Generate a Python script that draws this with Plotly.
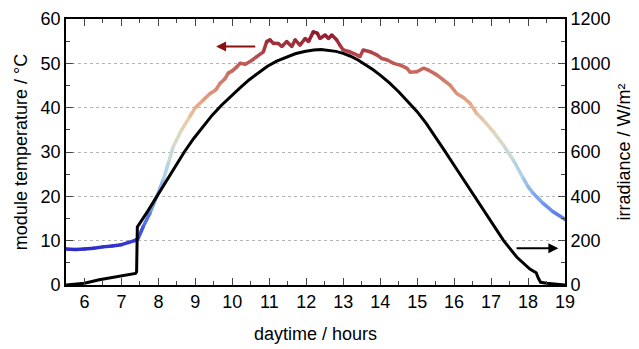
import plotly.graph_objects as go
from plotly.colors import sample_colorscale

# ---- data ----
temp_time = [5.5, 5.75, 6.0, 6.25, 6.5, 6.75, 7.0, 7.2, 7.35, 7.45, 7.59, 7.77, 7.95, 8.13,
             8.27, 8.4, 8.63, 8.85, 8.99, 9.21, 9.4, 9.55, 9.67, 9.8, 9.89, 10.0, 10.12,
             10.21, 10.35, 10.48, 10.66, 10.84, 10.93, 11.02, 11.11, 11.24, 11.34, 11.47,
             11.61, 11.7, 11.83, 11.97, 12.06, 12.19, 12.3, 12.37, 12.51, 12.6, 12.69,
             12.82, 12.91, 13.0, 13.18, 13.37, 13.45, 13.54, 13.73, 13.91, 14.04, 14.18,
             14.36, 14.54, 14.72, 14.81, 14.99, 15.17, 15.3, 15.53, 15.7, 15.89, 16.07,
             16.25, 16.43, 16.61, 16.79, 17.06, 17.33, 17.6, 17.87, 18.0, 18.14, 18.41,
             18.68, 19.0]
temperature = [8.1, 8.0, 8.1, 8.3, 8.6, 8.8, 9.1, 9.6, 10.0, 10.5, 13.2, 16.2, 19.9, 23.7,
               27.5, 31.2, 35.0, 38.0, 39.9, 41.7, 43.2, 44.0, 45.5, 46.5, 47.8, 48.3, 49.2,
               50.0, 49.8, 50.4, 51.5, 52.6, 54.9, 55.3, 54.5, 54.5, 53.8, 54.9,
               53.8, 55.3, 54.1, 55.6, 54.9, 57.1, 56.8, 55.6, 56.4, 55.6, 56.4,
               55.3, 54.1, 53.0, 52.6, 51.9, 51.5, 53.0, 52.6, 51.9, 51.1, 50.8,
               50.0, 49.6, 48.9, 48.0, 48.1, 48.9, 48.5, 47.4, 46.3, 45.1, 43.2,
               42.3, 41.0, 38.7, 37.2, 34.6, 31.6, 28.2, 24.1, 22.2, 20.7, 18.4,
               16.5, 14.8]

irr_time = [5.5, 5.8, 6.0, 6.4, 6.9, 7.3, 7.38, 7.41, 7.43, 7.7, 7.95, 8.2, 8.45, 8.7,
            8.95, 9.2, 9.45, 9.7, 9.95, 10.2, 10.45, 10.7, 10.95, 11.2, 11.45, 11.7,
            11.95, 12.2, 12.4, 12.6, 12.8, 13.0, 13.2, 13.4, 13.6, 13.8, 14.0, 14.25,
            14.5, 14.75, 15.0, 15.25, 15.5, 15.75, 16.0, 16.56, 17.0, 17.34, 17.7, 18.05,
            18.15, 18.22, 18.28, 18.34, 18.5, 18.75, 18.95, 19.0]
irradiance = [0, 3, 8, 24, 38, 48, 52, 60, 262, 330, 398, 465, 535, 600,
              660, 715, 765, 810, 850, 888, 925, 958, 987, 1010, 1028, 1043,
              1053, 1060, 1062, 1058, 1054, 1045, 1032, 1015, 995, 972, 947, 912,
              872, 828, 782, 728, 668, 604, 540, 400, 285, 200, 125, 72,
              62, 55, 30, 12, 8, 5, 1, 0]

x_ticks = list(range(6, 20))
temp_ticks = [0, 10, 20, 30, 40, 50, 60]
irr_ticks = [0, 200, 400, 600, 800, 1000, 1200]

# ---- colour map for the temperature line ----
tmin, tmax = 8.0, 57.0
cscale = [
    [0.00, "rgb(45,45,200)"],
    [0.08, "rgb(60,80,225)"],
    [0.20, "rgb(110,150,235)"],
    [0.35, "rgb(170,210,232)"],
    [0.49, "rgb(215,220,205)"],
    [0.59, "rgb(232,205,170)"],
    [0.69, "rgb(225,160,130)"],
    [0.80, "rgb(205,115,100)"],
    [0.90, "rgb(180,70,75)"],
    [1.00, "rgb(140,25,45)"],
]


def col(v):
    t = min(max((v - tmin) / (tmax - tmin), 0.0), 1.0)
    return sample_colorscale(cscale, [t])[0]


FONT = "Helvetica, Liberation Sans, Arial, sans-serif"
fig = go.Figure()

# temperature segments
for i in range(len(temp_time) - 1):
    fig.add_trace(go.Scatter(
        x=temp_time[i:i + 2], y=temperature[i:i + 2], mode="lines",
        line=dict(color=col((temperature[i] + temperature[i + 1]) / 2), width=3.5),
        showlegend=False, hoverinfo="skip"))
fig.add_trace(go.Scatter(
    x=temp_time, y=temperature, mode="markers",
    marker=dict(size=3.5, color=[col(v) for v in temperature], line=dict(width=0)),
    showlegend=False, hoverinfo="skip"))

# irradiance
fig.add_trace(go.Scatter(
    x=irr_time, y=irradiance, mode="lines", yaxis="y2",
    line=dict(color="black", width=3), showlegend=False, hoverinfo="skip"))

fig.update_layout(
    width=639, height=349,
    margin=dict(l=66, r=74, t=19, b=64),
    paper_bgcolor="white", plot_bgcolor="white",
    font=dict(family=FONT, size=18, color="black"),
    xaxis=dict(
        range=[5.5, 19], tickvals=x_ticks, ticks="inside", ticklen=7, tickwidth=1.3,
        showline=True, linecolor="black", linewidth=1.6, mirror="ticks",
        showgrid=False, zeroline=False, automargin=False,
        minor=dict(dtick=0.5, tick0=5.5, ticks="inside", ticklen=4, tickwidth=1.3, showgrid=False),
        title=dict(text="daytime / hours", font=dict(size=18), standoff=16),
    ),
    yaxis=dict(
        range=[0, 60], tickvals=temp_ticks, ticks="inside", ticklen=7, tickwidth=1.3,
        showline=True, linecolor="black", linewidth=1.6, automargin=False,
        showgrid=True, gridcolor="#b4b4b4", gridwidth=1, griddash="dot", zeroline=False,
        minor=dict(dtick=5, tick0=0, ticks="inside", ticklen=4, tickwidth=1.3, showgrid=False),
        title=dict(text="module temperature / °C", font=dict(size=18), standoff=8),
    ),
    yaxis2=dict(
        range=[0, 1200], tickvals=irr_ticks, ticks="inside", ticklen=7, tickwidth=1.3,
        overlaying="y", side="right", anchor="x", automargin=False,
        showline=True, linecolor="black", linewidth=1.6,
        showgrid=False, zeroline=False,
        minor=dict(dtick=100, tick0=0, ticks="inside", ticklen=4, tickwidth=1.3, showgrid=False),
        title=dict(text="irradiance / W/m²", font=dict(size=18), standoff=8),
    ),
    annotations=[
        dict(x=9.56, y=53.8, ax=10.66, ay=53.8, xref="x", yref="y", axref="x", ayref="y",
             text="", showarrow=True, arrowhead=2, arrowsize=1.0, arrowwidth=2,
             arrowcolor="#8b1010"),
        dict(x=18.82, y=8.3, ax=17.65, ay=8.3, xref="x", yref="y", axref="x", ayref="y",
             text="", showarrow=True, arrowhead=2, arrowsize=1.0, arrowwidth=2,
             arrowcolor="black"),
    ],
)

fig.write_html("out.html")
